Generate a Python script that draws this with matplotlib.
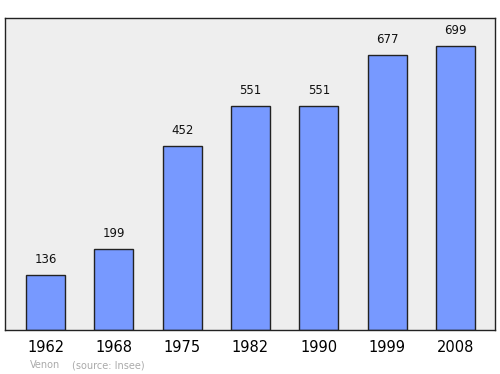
import matplotlib.pyplot as plt

years = ["1962", "1968", "1975", "1982", "1990", "1999", "2008"]
population = [136, 199, 452, 551, 551, 677, 699]

fig = plt.figure(figsize=(5, 3.74), dpi=100)
ax = fig.add_axes([5 / 500, 1 - 330 / 374, 490 / 500, 312 / 374])
ax.set_facecolor("#eeeeee")

pos = list(range(len(years)))
ax.bar(pos, population, width=0.57, color="#7799ff", edgecolor="#222222", linewidth=1)
for x, v in zip(pos, population):
    ax.annotate(str(v), (x, v), xytext=(0, 6.5), textcoords="offset points",
                ha="center", va="bottom", fontsize=8.5, color="#111111")

ax.set_xlim(-0.593, 6.58)
ax.set_ylim(0, 768)
ax.set_yticks([])
ax.set_xticks(pos)
ax.set_xticklabels(years, fontsize=10.5)
ax.tick_params(axis="x", length=0, pad=7.5)
for s in ax.spines.values():
    s.set_color("#222222")
    s.set_linewidth(1)

fig.text(30 / 500, 1 - 365 / 374, "Venon", fontsize=7, color="#aaaaaa", va="center")
fig.text(72 / 500, 1 - 365 / 374, "(source: Insee)", fontsize=7, color="#aaaaaa", va="center")

fig.savefig("out.png", dpi=100)
